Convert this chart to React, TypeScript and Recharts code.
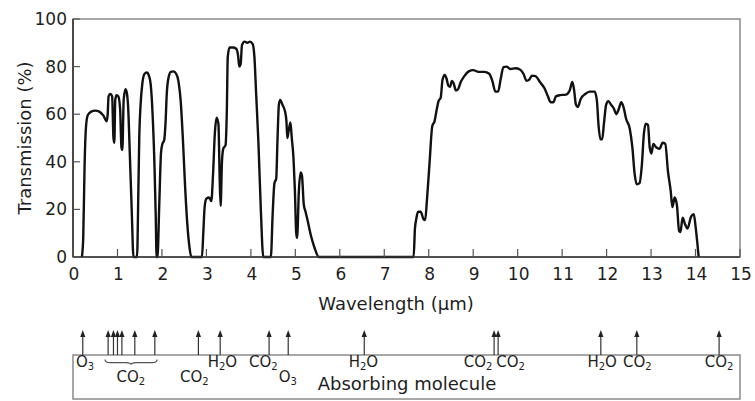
import React from "react";
import {
	LineChart,
	Line,
	XAxis,
	YAxis,
	ReferenceArea,
	ComposedChart,
	Scatter,
} from "recharts";

// transmission curve
const wavelength = [
	0.2, 0.23, 0.26, 0.29, 0.33, 0.4, 0.5, 0.6, 0.68, 0.76, 0.78, 0.8, 0.84, 0.88,
	0.91, 0.93, 0.95, 0.98, 1.02, 1.06, 1.09, 1.11, 1.14, 1.18, 1.21, 1.24, 1.28,
	1.32, 1.36,
	1.44, 1.47, 1.49, 1.52, 1.56, 1.61, 1.66, 1.71, 1.75, 1.79, 1.83, 1.86, 1.88,
	1.9, 1.94, 1.98, 2.01, 2.05, 2.08, 2.11, 2.15, 2.2, 2.26, 2.32, 2.37, 2.42,
	2.47, 2.52, 2.57, 2.62, 2.66,
	2.9, 2.93, 2.96, 3.0, 3.06, 3.11, 3.15, 3.19, 3.23, 3.27, 3.3, 3.32, 3.35,
	3.38, 3.43, 3.46, 3.48, 3.52, 3.6, 3.67, 3.71, 3.74, 3.77, 3.8, 3.86, 3.92,
	3.98, 4.04, 4.08, 4.12, 4.17, 4.22, 4.28,
	4.45, 4.49, 4.53, 4.57, 4.6, 4.63, 4.66, 4.71, 4.77, 4.8, 4.82, 4.85, 4.89,
	4.92, 4.96, 4.99, 5.02, 5.04, 5.08, 5.12, 5.15, 5.19, 5.23, 5.28, 5.35, 5.43,
	5.53,
	7.66, 7.69, 7.72, 7.76, 7.82, 7.88, 7.92, 7.96, 8.02, 8.08, 8.13, 8.18, 8.22,
	8.27, 8.31, 8.36, 8.4, 8.44, 8.48, 8.52, 8.56, 8.61, 8.66, 8.72, 8.8, 8.9, 9.0,
	9.12, 9.25, 9.36, 9.43, 9.5, 9.56, 9.62, 9.68, 9.75, 9.84, 9.95, 10.05, 10.13,
	10.2, 10.26, 10.32, 10.4, 10.5, 10.6, 10.68, 10.74, 10.8, 10.86, 10.95, 11.08,
	11.17, 11.23, 11.27, 11.31, 11.35, 11.42, 11.52, 11.62, 11.73, 11.78, 11.82,
	11.86, 11.9, 11.94, 11.99, 12.04, 12.1, 12.16, 12.22, 12.27, 12.33, 12.38,
	12.44, 12.52, 12.58, 12.63, 12.68, 12.74, 12.79, 12.84, 12.88, 12.93, 12.97,
	13.01, 13.05, 13.12, 13.19, 13.26, 13.32, 13.38, 13.44, 13.48, 13.53, 13.58,
	13.63, 13.66, 13.71, 13.76, 13.82, 13.9, 13.96, 14.0, 14.04, 14.07,
];

const transmission = [
	0, 8, 38, 54, 59.5, 61, 61.5, 61, 59.5, 57, 60, 67.5, 68.5, 67.5,
	50, 48, 66, 68, 67.5, 62, 46, 45, 66, 70.5, 69, 63, 42,
	20, 0,
	0, 28, 50, 64, 73, 77, 77.5, 76, 72, 60, 40, 18, 0,
	0, 22, 44, 47.5, 49, 56, 69, 75.5, 77.8, 78, 77, 74, 66,
	50, 30, 14, 4, 0,
	0, 10, 21, 24.5, 25, 23.5, 35, 52, 58.5, 56, 32, 21.5, 40,
	45.5, 47, 62, 84, 88, 88, 87.5, 85, 80, 81, 89, 90.5, 90,
	90.5, 89.5, 84, 68, 48, 22, 0,
	0, 18, 31, 33, 50, 64, 66, 64, 61, 57, 50, 53, 56.5,
	50, 41, 28, 10, 8, 28, 35.5, 34, 22, 19, 15, 9, 4,
	0,
	0, 12, 16, 19, 19, 16, 15.5, 24, 40, 55, 57, 62, 65.5,
	67, 74.5, 76.5, 75, 72, 71.5, 74, 73, 70, 70.5, 73.5, 76, 78, 78.5,
	77.8, 77.8, 77, 74, 69.5, 69.5, 75, 79.8, 80, 79, 79.3, 78.8, 77,
	74, 74.5, 76.2, 76, 73.5, 71, 67.5, 65, 65, 67.5, 68, 68.2,
	70, 73.5, 70, 64, 63, 66.5, 68.5, 69.5, 69.5, 66, 55,
	49.5, 49.5, 56, 64, 65.5, 64, 62.5, 60, 62, 65, 63,
	58, 54, 46, 35, 30.5, 31, 38, 52, 56, 55.5, 46,
	43.5, 47.5, 46, 45.5, 48, 47.5, 36, 28, 21, 25, 22,
	11, 10.5, 16.5, 14, 12, 17, 18, 13, 6, 0,
];

const xTicks = [0, 1, 2, 3, 4, 5, 6, 7, 8, 9, 10, 11, 12, 13, 14, 15];
const yTicks = [0, 20, 40, 60, 80, 100];

// absorption bands marked under the chart
const arrowWavelength = [
	0.22, 0.79, 0.91, 1.0, 1.1, 1.39, 1.84, 2.82, 3.31, 4.41, 4.84, 6.55, 9.47,
	9.56, 11.87, 12.68, 14.53,
];
const moleculeName = [
	"O3", "CO2", "CO2", "H2O", "CO2", "O3", "H2O", "CO2", "CO2", "H2O", "CO2", "CO2",
];
const moleculeAt = [
	0.27, 1.3, 2.73, 3.36, 4.28, 4.83, 6.53, 9.11, 9.84, 11.9, 12.69, 14.53,
];
const moleculeRow = [1, 2, 2, 1, 1, 2, 1, 1, 1, 1, 1, 1];
const braceSpan = [0.72, 1.89];

const curve = wavelength.map((w, i) => ({ w, t: transmission[i] }));
const arrows = arrowWavelength.map((x) => ({ x, y: 1 }));
const rowY: Record<number, number> = { 1: 0.72, 2: 0.38 };
const molecules = moleculeName.map((name, i) => ({
	x: moleculeAt[i],
	y: rowY[moleculeRow[i]],
	name,
}));

const FONT = '"DejaVu Sans", Verdana, sans-serif';
const INK = "#1e1e1e";
const FRAME = "#8a8a8a";
const PLOT_LEFT = 73;
const PLOT_BOTTOM = 257;

const XTick = ({ x, payload }: any) => (
	<g>
		<line x1={x} x2={x} y1={PLOT_BOTTOM} y2={PLOT_BOTTOM - 8} stroke="#555" strokeWidth={1.2} />
		<text x={x + 1} y={PLOT_BOTTOM + 23} textAnchor="middle" fontFamily={FONT} fontSize={17} fill={INK}>
			{payload.value}
		</text>
	</g>
);

const YTick = ({ y, payload }: any) => (
	<g>
		<line x1={PLOT_LEFT} x2={PLOT_LEFT + 7} y1={y} y2={y} stroke="#555" strokeWidth={1.2} />
		<text x={67} y={y + 6} textAnchor="end" fontFamily={FONT} fontSize={17} fill={INK}>
			{payload.value}
		</text>
	</g>
);

const XTitle = () => (
	<text x={396} y={310} textAnchor="middle" fontFamily={FONT} fontSize={18} fill={INK}>
		Wavelength (µm)
	</text>
);

const YTitle = () => (
	<text
		x={24}
		y={138}
		transform="rotate(-90 24 138)"
		textAnchor="middle"
		dominantBaseline="central"
		fontFamily={FONT}
		fontSize={18}
		fill={INK}
	>
		Transmission (%)
	</text>
);

const BoxTitle = () => (
	<text x={407} y={89.5} textAnchor="middle" fontFamily={FONT} fontSize={18} fill={INK}>
		Absorbing molecule
	</text>
);

const Arrow = ({ cx, cy }: any) => (
	<g>
		<line x1={cx} x2={cx} y1={cy} y2={cy - 19} stroke="#333" strokeWidth={1.2} />
		<path d={`M${cx} ${cy - 25} L${cx - 2.6} ${cy - 18} L${cx + 2.6} ${cy - 18} Z`} fill="#222" />
	</g>
);

const Formula = ({ cx, cy, payload }: any) => {
	const chars = [...payload.name];
	return (
		<text x={cx} y={cy} textAnchor="middle" fontFamily={FONT} fontSize={15} fill={INK}>
			{chars.map((c, i) => {
				const sub = /\d/.test(c);
				const prevSub = i > 0 && /\d/.test(chars[i - 1]);
				return sub ? (
					<tspan key={i} fontSize={10} dy={3}>
						{c}
					</tspan>
				) : (
					<tspan key={i} dy={prevSub ? -3 : 0}>
						{c}
					</tspan>
				);
			})}
		</text>
	);
};

const Brace = ({ x, y, width, height }: any) => {
	const m = x + width / 2;
	const b = y + height * 0.6;
	const r = x + width;
	const d = `M${x} ${y} Q${x} ${b} ${x + 5} ${b} L${m - 5} ${b} Q${m} ${b} ${m} ${y + height} Q${m} ${b} ${m + 5} ${b} L${r - 5} ${b} Q${r} ${b} ${r} ${y}`;
	return <path d={d} fill="none" stroke="#555" strokeWidth={1.2} />;
};

export default function App() {
	return (
		<div style={{ position: "absolute", left: 0, top: 0, width: 755, height: 401, background: "#fff" }}>
			<div style={{ position: "absolute", left: 0, top: 0 }}>
				<LineChart width={755} height={322} data={curve} margin={{ top: 19, right: 15, bottom: 35, left: 13 }}>
					<ReferenceArea x1={0} x2={15} y1={0} y2={100} fill="none" stroke={FRAME} strokeWidth={1.5} />
					<XAxis
						dataKey="w"
						type="number"
						domain={[0, 15]}
						ticks={xTicks}
						interval={0}
						height={30}
						axisLine={{ stroke: "#333", strokeWidth: 1.6 }}
						tickLine={false}
						tick={(p: any) => <XTick {...p} />}
						label={XTitle}
					/>
					<YAxis
						type="number"
						domain={[0, 100]}
						ticks={yTicks}
						interval={0}
						width={60}
						axisLine={{ stroke: "#333", strokeWidth: 1.6 }}
						tickLine={false}
						tick={(p: any) => <YTick {...p} />}
						label={YTitle}
					/>
					<Line
						dataKey="t"
						type="monotone"
						stroke="#111"
						strokeWidth={2.4}
						dot={false}
						isAnimationActive={false}
					/>
				</LineChart>
			</div>
			<div style={{ position: "absolute", left: 0, top: 300 }}>
				<ComposedChart width={755} height={101} margin={{ top: 55, right: 15, bottom: 2, left: 73 }}>
					<XAxis dataKey="x" type="number" domain={[0, 15]} hide />
					<YAxis dataKey="y" type="number" domain={[0, 1]} hide />
					<ReferenceArea x1={0} x2={15} y1={0} y2={1} fill="none" stroke={FRAME} strokeWidth={1.5} label={BoxTitle} />
					<ReferenceArea x1={braceSpan[0]} x2={braceSpan[1]} y1={0.78} y2={0.9} shape={Brace} />
					<Scatter data={arrows} shape={Arrow} isAnimationActive={false} />
					<Scatter data={molecules} shape={Formula} isAnimationActive={false} />
				</ComposedChart>
			</div>
		</div>
	);
}
